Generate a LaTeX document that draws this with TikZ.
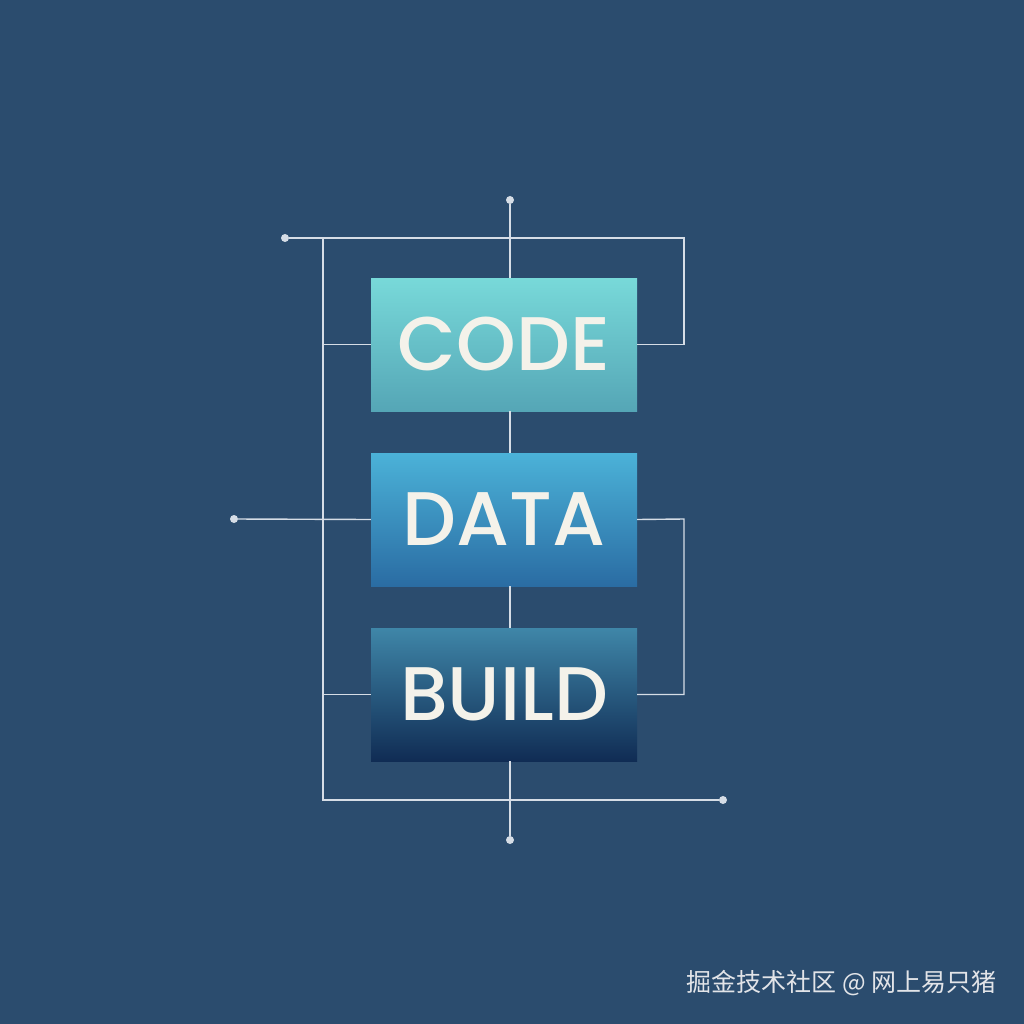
\documentclass[tikz,border=0pt]{standalone}
\usepackage{fontspec}
\newfontfamily\boxfont{Poppins}[UprightFont=* Medium]
\newfontfamily\cjkfont{Noto Sans CJK SC}
\definecolor{bg}{HTML}{2B4C6E}
\definecolor{wire}{HTML}{D6DDE6}
\definecolor{txt}{HTML}{F4F2EA}
\definecolor{codetop}{HTML}{78D9D9}
\definecolor{codebot}{HTML}{55A6B6}
\definecolor{datatop}{HTML}{4BB2D8}
\definecolor{databot}{HTML}{2A6CA3}
\definecolor{buildtop}{HTML}{3F86A8}
\definecolor{buildbot}{HTML}{102C54}
\definecolor{wmark}{HTML}{E2E4E8}
\begin{document}
\begin{tikzpicture}[x=1pt,y=-1pt,
  box/.style={rectangle, minimum width=266pt, minimum height=133pt, inner sep=0pt,
    text=txt, font=\boxfont\fontsize{76}{76}\selectfont},
  wireline/.style={draw=wire, line width=1.4pt},
  dot/.style={circle, fill=wire, inner sep=0pt, minimum size=8pt}]
\fill[bg] (0,0) rectangle (1024,1024);
\useasboundingbox (0,0) rectangle (1024,1024);
% boxes
\node[box, top color=codetop, bottom color=codebot] (code) at (504,344.5) {CODE};
\node[box, top color=datatop, bottom color=databot] (data) at (504,519.5) {DATA};
\node[box, top color=buildtop, bottom color=buildbot] (build) at (504,694.5) {BUILD};
% dots
\node[dot] (dtop) at (510,200) {};
\node[dot] (dleft) at (285,238) {};
\node[dot] (dmid) at (234,519) {};
\node[dot] (dright) at (723,800) {};
\node[dot] (dbot) at (510,840) {};
% corner coordinates
\coordinate (tl) at (323,238);
\coordinate (tr) at (684,238);
\coordinate (bl) at (323,800);
\coordinate (rr) at (684,519);
% wires
\draw[wireline] (dtop) -- (dtop |- code.north);
\draw[wireline] (dleft) -- (tr) |- (code.east);
\draw[wireline] (tl) -- (bl) -- (dright);
\draw[wireline] (code.west -| tl) -- (code.west);
\draw[wireline] (dmid) -- (data.west);
\draw[wireline] (build.west -| tl) -- (build.west);
\draw[wireline] (dtop |- code.south) -- (dtop |- data.north);
\draw[wireline] (dtop |- data.south) -- (dtop |- build.north);
\draw[wireline] (data.east) -- (rr) |- (build.east);
\draw[wireline] (dtop |- build.south) -- (dbot);
% watermark
\node[anchor=east, text=wmark, font=\cjkfont\fontsize{25}{25}\selectfont, inner sep=0pt] (wm) at (997,983) {掘金技术社区 @ 网上易只猪};
\end{tikzpicture}
\end{document}
